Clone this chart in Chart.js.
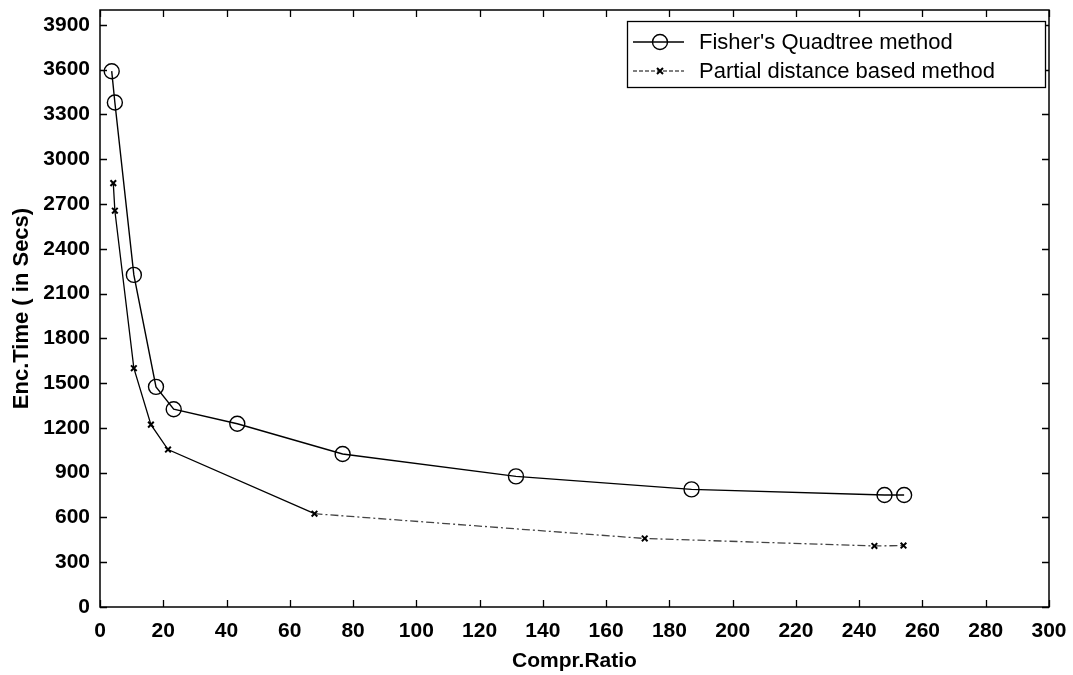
<!DOCTYPE html>
<html>
<head>
<meta charset="utf-8">
<script src="https://cdn.jsdelivr.net/npm/chart.js@4.4.1/dist/chart.umd.min.js"></script>
<style>
html,body{margin:0;padding:0;background:#fff;}
#wrap{width:1073px;height:675px;}
</style>
</head>
<body>
<div id="wrap"><canvas id="c" width="1073" height="675"></canvas></div>
<script>
const fisherX = [3.7, 4.7, 10.7, 17.7, 23.3, 43.4, 76.7, 131.5, 187, 248, 254.2];
const fisherY = [3590, 3380, 2225, 1475, 1325, 1228, 1025, 875, 788, 750, 750];
const partialX = [4.2, 4.7, 10.7, 16.1, 21.5, 67.8, 172.2, 244.8, 254];
const partialY = [2840, 2655, 1600, 1222, 1055, 625, 459, 409, 412];
const xTicks = [0,20,40,60,80,100,120,140,160,180,200,220,240,260,280,300];
const yTicks = [0,300,600,900,1200,1500,1800,2100,2400,2700,3000,3300,3600,3900];
const seriesLabels = ["Fisher's Quadtree method", "Partial distance based method"];
const xTitle = "Compr.Ratio";
const yTitle = "Enc.Time ( in Secs)";

const FONT = "'Liberation Sans', Arial, sans-serif";

const boxPlugin = {
  id: 'boxPlugin',
  afterDraw(chart) {
    const ctx = chart.ctx;
    const a = chart.chartArea;
    const xs = chart.scales.x, ys = chart.scales.y;
    ctx.save();
    ctx.strokeStyle = '#000';
    ctx.lineWidth = 1.5;
    ctx.strokeRect(a.left, a.top, a.right - a.left, a.bottom - a.top);
    ctx.lineWidth = 1.3;
    const L = 7;
    ctx.beginPath();
    xTicks.forEach(v => {
      const px = Math.round(xs.getPixelForValue(v)) + 0.5;
      ctx.moveTo(px, a.bottom); ctx.lineTo(px, a.bottom - L);
      ctx.moveTo(px, a.top); ctx.lineTo(px, a.top + L);
    });
    yTicks.forEach(v => {
      const py = Math.round(ys.getPixelForValue(v)) + 0.5;
      ctx.moveTo(a.left, py); ctx.lineTo(a.left + L, py);
      ctx.moveTo(a.right, py); ctx.lineTo(a.right - L, py);
    });
    ctx.stroke();

    // legend
    const lx = 627, ly = 21, lw = 1045 - 627, lh = 87 - 21;
    ctx.fillStyle = '#fff';
    ctx.fillRect(lx, ly, lw, lh);
    ctx.lineWidth = 1.3;
    ctx.strokeStyle = '#000';
    ctx.strokeRect(lx + 0.5, ly + 0.5, lw, lh);
    const rows = [42, 71];
    chart.data.datasets.forEach((ds, i) => {
      const y = rows[i];
      ctx.save();
      ctx.strokeStyle = '#000';
      ctx.lineWidth = i === 0 ? 1.3 : 1.1;
      ctx.setLineDash(i === 0 ? [] : [4, 2]);
      ctx.beginPath();
      ctx.moveTo(633, y); ctx.lineTo(684, y);
      ctx.stroke();
      ctx.setLineDash([]);
      if (i === 0) {
        ctx.beginPath();
        ctx.arc(660, y, 7.5, 0, Math.PI * 2);
        ctx.lineWidth = 1.4;
        ctx.stroke();
      } else {
        ctx.lineWidth = 2;
        ctx.beginPath();
        ctx.moveTo(657, y - 3); ctx.lineTo(663, y + 3);
        ctx.moveTo(663, y - 3); ctx.lineTo(657, y + 3);
        ctx.stroke();
      }
      ctx.restore();
      ctx.fillStyle = '#000';
      ctx.font = '22px ' + FONT;
      ctx.textBaseline = 'middle';
      ctx.textAlign = 'left';
      ctx.fillText(ds.label, 699, y + 1);
    });
    ctx.restore();
  }
};

new Chart(document.getElementById('c'), {
  type: 'line',
  data: {
    datasets: [
      {
        label: seriesLabels[0],
        data: fisherX.map((x, i) => ({x, y: fisherY[i]})),
        borderColor: '#000',
        borderWidth: 1.4,
        pointStyle: 'circle',
        pointRadius: 7.5,
        pointBorderWidth: 1.4,
        pointBorderColor: '#000',
        pointBackgroundColor: 'rgba(0,0,0,0)',
        tension: 0,
        fill: false
      },
      {
        label: seriesLabels[1],
        data: partialX.map((x, i) => ({x, y: partialY[i]})),
        borderColor: '#000',
        borderWidth: 1.3,
        pointStyle: 'crossRot',
        pointRadius: 4,
        pointBorderWidth: 2,
        pointBorderColor: '#000',
        tension: 0,
        fill: false,
        segment: {
          borderDash: c => (c.p0.parsed.x >= 60 ? [8, 3, 2, 3] : undefined),
          borderColor: c => (c.p0.parsed.x >= 60 ? '#444' : '#000')
        }
      }
    ]
  },
  options: {
    responsive: false,
    animation: false,
    devicePixelRatio: 1,
    layout: { padding: { top: 10, right: 24, left: 0, bottom: 0 } },
    plugins: { legend: { display: false }, tooltip: { enabled: false } },
    scales: {
      x: {
        type: 'linear',
        min: 0, max: 300,
        afterBuildTicks: s => { s.ticks = xTicks.map(v => ({value: v})); },
        afterFit: s => { s.height = 68; s.paddingLeft = 0; s.paddingRight = 0; },
        grid: { display: false },
        border: { display: false },
        ticks: { color: '#000', padding: 4, callback: v => String(v), font: { family: FONT, size: 21, weight: 'bold' }, maxRotation: 0, autoSkip: false },
        title: { display: true, text: xTitle, color: '#000', font: { family: FONT, size: 21, weight: 'bold' }, padding: { top: 0, bottom: 1 } }
      },
      y: {
        type: 'linear',
        min: 0, max: 4000,
        afterBuildTicks: s => { s.ticks = yTicks.map(v => ({value: v})); },
        afterFit: s => { s.width = 100; s.paddingTop = 0; s.paddingBottom = 0; },
        grid: { display: false },
        border: { display: false },
        ticks: { color: '#000', padding: 2, callback: v => String(v), font: { family: FONT, size: 21, weight: 'bold' }, autoSkip: false },
        title: { display: true, text: yTitle, color: '#000', font: { family: FONT, size: 22, weight: 'bold' }, padding: { top: 9, bottom: 0 } }
      }
    }
  },
  plugins: [boxPlugin]
});
</script>
</body>
</html>
